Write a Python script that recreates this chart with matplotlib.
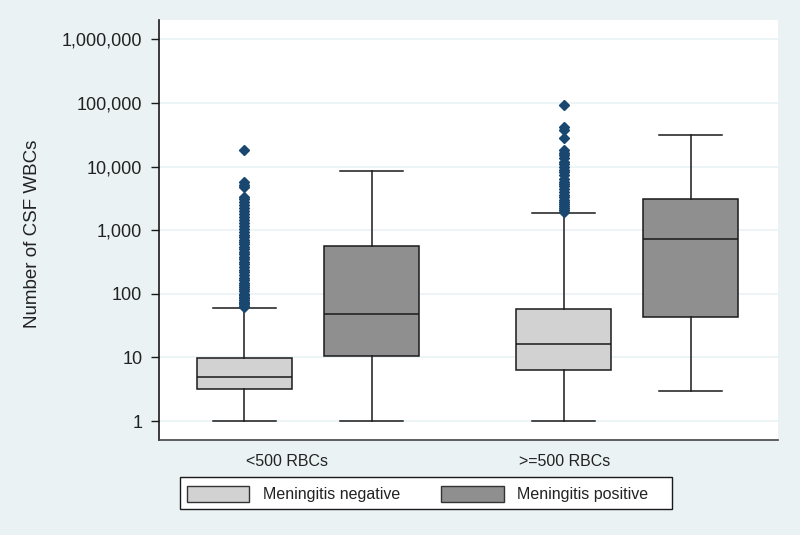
import matplotlib
matplotlib.use("Agg")
import matplotlib.pyplot as plt
from matplotlib.patches import Patch, Rectangle

plt.rcParams['font.family'] = ['Liberation Sans', 'DejaVu Sans']

# ---- data ----
groups = ["<500 RBCs", ">=500 RBCs"]
series = ["Meningitis negative", "Meningitis positive"]
# per box: (group, series)
box_q1 = [3.15, 10.4, 6.3, 43]
box_med = [5.0, 47.5, 16, 720]
box_q3 = [9.9, 560, 58, 3130]
whis_lo = [1, 1, 1, 3]
whis_hi = [59, 8500, 1880, 31400]
fliers_neg_low = [62, 65, 68, 72, 75, 80, 85, 90, 95, 100, 110, 120, 130, 140, 150,
                  165, 180, 200, 220, 240, 260, 290, 320, 350, 380, 420, 460, 500,
                  550, 600, 650, 700, 780, 850, 950, 1050, 1150, 1300, 1450, 1600,
                  1800, 2000, 2200, 2500, 2800, 3100, 3350, 4700, 5200, 5800, 18200]
fliers_neg_high = [1950, 2050, 2200, 2400, 2600, 2800, 3000, 3300, 3600, 3950, 4500,
                   4900, 5300, 5800, 6300, 7500, 8200, 9000, 10000, 11000, 12000,
                   13500, 15000, 16500, 18200, 27900, 37600, 42400, 92000]
fliers = [fliers_neg_low, [], fliers_neg_high, []]
ytick_vals = [1, 10, 100, 1000, 10000, 100000, 1000000]
ytick_labels = ["1", "10", "100", "1,000", "10,000", "100,000", "1,000,000"]

# ---- style ----
BG = "#eaf2f3"
fills = ["#d2d2d2", "#8f8f8f", "#d2d2d2", "#8f8f8f"]
NAVY = "#1a476f"
positions = [0.85, 2.125, 4.045, 5.315]
label_pos = [1.28, 4.06]

fig = plt.figure(figsize=(8, 5.35), dpi=100, facecolor=BG)
ax = fig.add_axes([159/800, 95/535, 619/800, 420/535])
ax.set_facecolor("white")

stats = []
for i in range(4):
    stats.append(dict(med=box_med[i], q1=box_q1[i], q3=box_q3[i],
                      whislo=whis_lo[i], whishi=whis_hi[i], fliers=fliers[i]))

bp = ax.bxp(stats, positions=positions, widths=0.95, capwidths=0.63,
            patch_artist=True, showfliers=True,
            boxprops=dict(linewidth=1.1, edgecolor="#1a1a1a"),
            medianprops=dict(color="#1a1a1a", linewidth=1.1),
            whiskerprops=dict(color="#1a1a1a", linewidth=1.1),
            capprops=dict(color="#1a1a1a", linewidth=1.1),
            flierprops=dict(marker="D", markersize=5.0, markerfacecolor=NAVY,
                            markeredgecolor=NAVY, linestyle="none"),
            zorder=3)
for patch, c in zip(bp["boxes"], fills):
    patch.set_facecolor(c)

ax.set_yscale("log")
ax.set_ylim(0.503, 2.02e6)
ax.set_xlim(0, 6.19)
ax.set_yticks(ytick_vals)
ax.set_yticklabels(ytick_labels)
ax.minorticks_off()
ax.tick_params(axis="y", length=6, width=1, color="#1a1a1a", labelsize=13,
               labelcolor="#222222", pad=6)
ax.set_xticks(label_pos)
ax.set_xticklabels(groups)
ax.tick_params(axis="x", length=0, labelsize=11.5, labelcolor="#222222", pad=10)
ax.grid(axis="y", color=BG, linewidth=1.2, zorder=0)
ax.set_axisbelow(True)

for s in ["top", "right"]:
    ax.spines[s].set_visible(False)
ax.spines["left"].set_color("#1a1a1a")
ax.spines["left"].set_linewidth(1.2)
ax.spines["bottom"].set_color("#444444")
ax.spines["bottom"].set_linewidth(1.2)

ax.set_ylabel("Number of CSF WBCs", fontsize=13.5, color="#222222")
ax.yaxis.set_label_coords(-0.19, 0.49)

# legend frame
fig.patches.append(Rectangle((180/800, 26/535), 492/800, 32/535,
                             transform=fig.transFigure, facecolor="white",
                             edgecolor="#1a1a1a", linewidth=1.0, zorder=1))
handles = [Patch(facecolor=fills[0], edgecolor="#333333", linewidth=1),
           Patch(facecolor=fills[1], edgecolor="#333333", linewidth=1)]
leg = fig.legend(handles, series, loc="lower left",
                 bbox_to_anchor=(180/800, 26/535), ncol=2, frameon=False,
                 fontsize=11.5,
                 handlelength=3.9, handleheight=1.1, handletextpad=0.85,
                 columnspacing=2.6, borderpad=0.42, borderaxespad=0)
for t in leg.get_texts():
    t.set_color("#222222")

fig.savefig("out.png", dpi=100, facecolor=BG)
